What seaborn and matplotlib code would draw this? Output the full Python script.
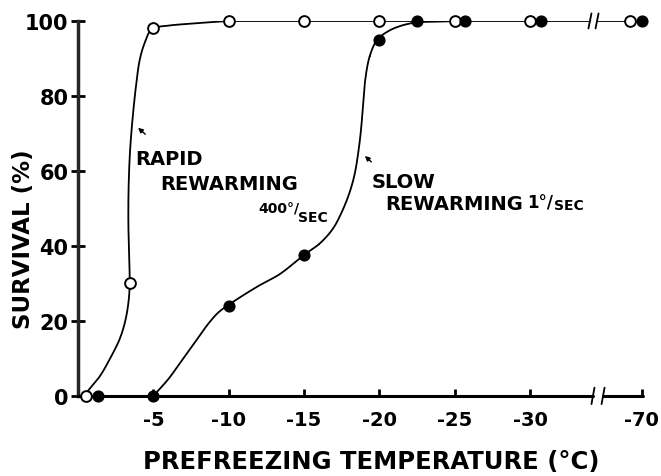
import numpy as np
import matplotlib
matplotlib.use('Agg')
import matplotlib.pyplot as plt
import seaborn as sns

sns.set_style('ticks')
plt.rcParams['font.family'] = ['DejaVu Sans']
plt.rcParams['font.weight'] = 'bold'
plt.rcParams['text.color'] = 'black'
plt.rcParams['axes.labelcolor'] = 'black'
plt.rcParams['xtick.color'] = 'black'
plt.rcParams['ytick.color'] = 'black'

# measured points (prefreezing temperature in degC, survival in %)
rapid_temp = np.array([-0.5, -3.45, -5, -10, -15, -20, -25, -30, -70])
rapid_surv = np.array([0, 30, 98, 100, 100, 100, 100, 100, 100])
slow_temp = np.array([-1.3, -5, -10, -15, -20, -22.5, -25.7, -30.7, -70])
slow_surv = np.array([0, 0, 24, 37.6, 95, 100, 100, 100, 100])

# hand drawn curves
rapid_curve_temp = [-0.46, -0.66, -1.46, -2.12, -2.75, -3.12, -3.35, -3.43, -3.38,
                    -3.34, -3.36, -3.45, -3.62, -3.85, -4.11, -4.45, -4.91, -5.9,
                    -7.2, -10]
rapid_curve_surv = [0, 1.3, 5.3, 9.9, 15, 19.7, 25, 30, 38.4,
                    47.2, 56, 65.1, 73.9, 82.7, 89.9, 94.4, 97.9, 98.7,
                    99.2, 100]
slow_curve_temp = [-5, -6.0, -6.9, -7.8, -8.6, -9.3, -10, -11.88, -13.4, -15,
                   -16.0, -16.9, -17.5, -18.0, -18.35, -18.6, -18.78, -18.9,
                   -19.05, -19.35, -19.84, -20.6, -21.5, -22.5]
slow_curve_surv = [0, 4.5, 9.5, 14.5, 19, 22.2, 24.3, 29.1, 32.5, 37.6,
                   40.5, 44.5, 49, 54, 59, 65, 71, 77,
                   84, 90.5, 94.9, 97.3, 98.8, 99.7]

tick_labels = ['-5', '-10', '-15', '-20', '-25', '-30', '-70']
tick_temps = [-5, -10, -15, -20, -25, -30, -70]

# broken axis: -70 sits just past the break
POS_70 = 37.4
BREAK_TOP = (33.97, 34.44)
BREAK_BOT = (34.17, 34.84)
XSC, YSC = 15.07, 3.75  # px per unit, used for smoothing


def to_pos(t):
    t = np.asarray(t, float)
    return np.where(t < -40, POS_70 + (t + 70) * 0.05, -t)


def smooth(x, y, n=25):
    # centripetal catmull-rom through the traced points
    pts = np.column_stack([np.asarray(x) * XSC, np.asarray(y) * YSC])
    p = np.vstack([2 * pts[0] - pts[1], pts, 2 * pts[-1] - pts[-2]])
    out = []
    for i in range(1, len(p) - 2):
        p0, p1, p2, p3 = p[i - 1], p[i], p[i + 1], p[i + 2]
        t0 = 0.0
        t1 = t0 + np.linalg.norm(p1 - p0) ** 0.5
        t2 = t1 + np.linalg.norm(p2 - p1) ** 0.5
        t3 = t2 + np.linalg.norm(p3 - p2) ** 0.5
        t = np.linspace(t1, t2, n)[:, None]
        a1 = (t1 - t) / (t1 - t0) * p0 + (t - t0) / (t1 - t0) * p1
        a2 = (t2 - t) / (t2 - t1) * p1 + (t - t1) / (t2 - t1) * p2
        a3 = (t3 - t) / (t3 - t2) * p2 + (t - t2) / (t3 - t2) * p3
        b1 = (t2 - t) / (t2 - t0) * a1 + (t - t0) / (t2 - t0) * a2
        b2 = (t3 - t) / (t3 - t1) * a2 + (t - t1) / (t3 - t1) * a3
        out.append((t2 - t) / (t2 - t1) * b1 + (t - t1) / (t2 - t1) * b2)
    c = np.vstack(out)
    return c[:, 0] / XSC, c[:, 1] / YSC


fig = plt.figure(figsize=(6.61, 4.77), dpi=100)
ax = fig.add_axes([0.118, 0.168, 0.855, 0.786])

line_kw = dict(color='black', linewidth=1.3, sort=False, estimator=None, ax=ax)

# rapid curve + top plateau
cx, cy = smooth(to_pos(rapid_curve_temp), rapid_curve_surv)
sns.lineplot(x=cx, y=cy, **line_kw)
sns.lineplot(x=[10, BREAK_TOP[0]], y=[100, 100], **line_kw)
sns.lineplot(x=[BREAK_TOP[1], POS_70], y=[100, 100], **line_kw)

# slow curve
sns.lineplot(x=to_pos(slow_temp[:2]), y=slow_surv[:2], **line_kw)
cx, cy = smooth(to_pos(slow_curve_temp), slow_curve_surv)
sns.lineplot(x=cx, y=cy, **line_kw)
sns.lineplot(x=[22.5, 25.7], y=[99.7, 100], **line_kw)

# break marks on the plateau
for bx in BREAK_TOP:
    ax.plot([bx - 0.1, bx + 0.1], [98, 102], color='black', lw=1.3, clip_on=False)

# markers
rx = to_pos(rapid_temp)
rx[-1] -= 0.8
sns.scatterplot(x=rx, y=rapid_surv, marker='o', s=60, facecolor='white',
                edgecolor='black', linewidth=1.4, zorder=4, clip_on=False, ax=ax)
sns.scatterplot(x=to_pos(slow_temp), y=slow_surv, marker='o', s=60, color='black',
                edgecolor='black', linewidth=1.0, zorder=5, clip_on=False, ax=ax)

# x axis with a break
ax.spines[['top', 'right', 'bottom']].set_visible(False)
ax.spines['left'].set_linewidth(2.5)
ax.plot([0, BREAK_BOT[0]], [0, 0], color='black', lw=2.2, clip_on=False, zorder=3)
ax.plot([BREAK_BOT[1], 37.5], [0, 0], color='black', lw=2.2, clip_on=False, zorder=3)
for bx in BREAK_BOT:
    ax.plot([bx - 0.1, bx + 0.1], [-2.2, 2.2], color='black', lw=1.3, clip_on=False)

ax.set_xlim(0, 37.5)
ax.set_ylim(0, 100)
ax.set_xticks(to_pos(tick_temps))
ax.set_xticklabels(tick_labels)
ax.set_yticks([0, 20, 40, 60, 80, 100])
ax.tick_params(axis='x', direction='in', length=5, width=2, pad=10, labelsize=14)
ax.tick_params(axis='y', direction='inout', length=10, width=2, pad=2, labelsize=15)

ax.set_xlabel('PREFREEZING TEMPERATURE (°C)', fontsize=17.5, fontweight='bold')
ax.xaxis.set_label_coords(0.519, -0.143)
ax.set_ylabel('SURVIVAL (%)', fontsize=16.5, fontweight='bold')
ax.yaxis.set_label_coords(-0.076, 0.42)

# annotations
tk = dict(fontweight='bold', color='black')
ax.text(3.78, 61.9, 'RAPID', fontsize=14, **tk)
ax.text(5.44, 55.2, 'REWARMING', fontsize=14, **tk)
ax.text(12.0, 49.1, '400°/', fontsize=10, **tk)
ax.text(14.6, 46.7, 'SEC', fontsize=10, **tk)
ax.annotate('', xy=(3.85, 72), xytext=(4.6, 69.3),
            arrowprops=dict(arrowstyle='-|>', lw=1, color='black', mutation_scale=7))

ax.text(19.5, 55.7, 'SLOW', fontsize=14, **tk)
ax.text(20.37, 49.9, 'REWARMING', fontsize=14, **tk)
ax.text(29.8, 50.2, '1°/', fontsize=12, **tk)
ax.text(31.6, 49.9, 'SEC', fontsize=10, **tk)
ax.annotate('', xy=(18.9, 64.5), xytext=(19.6, 61.9),
            arrowprops=dict(arrowstyle='-|>', lw=1, color='black', mutation_scale=7))

fig.savefig('out.png', dpi=100, facecolor='white')
